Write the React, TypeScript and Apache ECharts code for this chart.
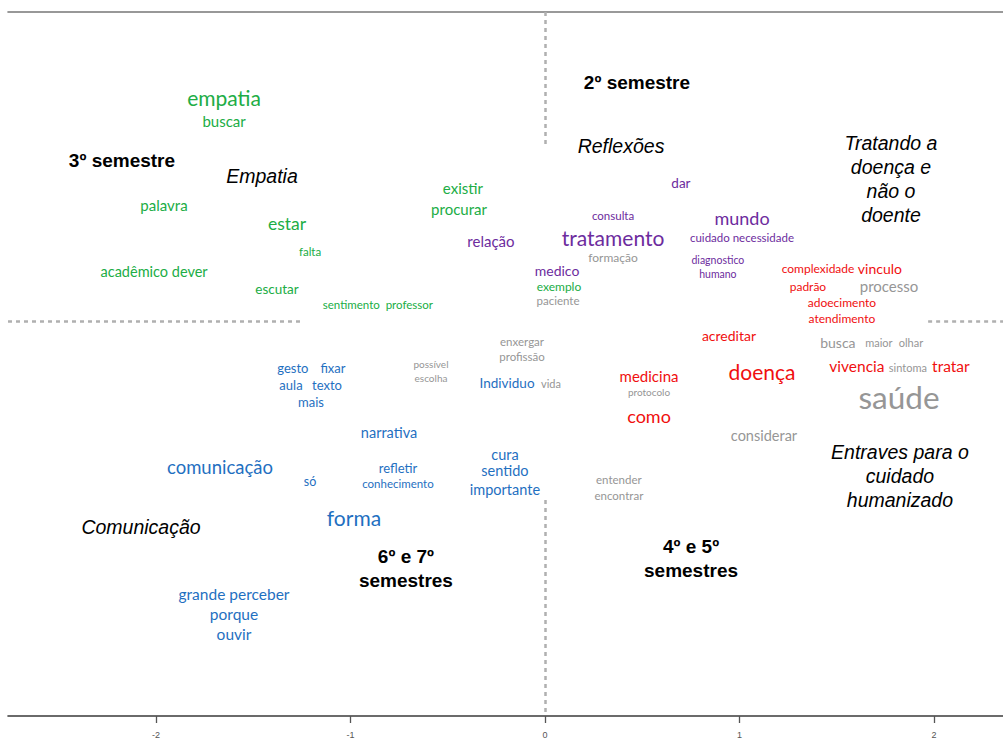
import React, { useEffect, useRef } from "react";
import * as echarts from "echarts";

type W = [string, number, number, number]; // word, dim1, dim2, size

const greenWords: W[] = [
  ["empatia", -1.65, 1.147, 21],
  ["buscar", -1.65, 1.028, 15],
  ["palavra", -1.959, 0.596, 15],
  ["estar", -1.326, 0.504, 17.5],
  ["falta", -1.208, 0.355, 11.5],
  ["acadêmico dever", -2.01, 0.257, 14.5],
  ["escutar", -1.378, 0.165, 13.5],
  ["sentimento  professor", -0.859, 0.087, 11.5],
  ["existir", -0.422, 0.684, 15],
  ["procurar", -0.442, 0.576, 15],
  ["exemplo", 0.072, 0.18, 12],
];

const purpleWords: W[] = [
  ["relação", -0.278, 0.411, 15],
  ["tratamento", 0.35, 0.432, 21],
  ["consulta", 0.35, 0.545, 11.5],
  ["dar", 0.699, 0.71, 13.5],
  ["mundo", 1.013, 0.53, 18],
  ["cuidado necessidade", 1.013, 0.432, 11.5],
  ["diagnostico", 0.889, 0.314, 10.5],
  ["humano", 0.889, 0.242, 10.5],
  ["medico", 0.062, 0.262, 14],
];

const grayWords: W[] = [
  ["formação", 0.35, 0.329, 12],
  ["paciente", 0.067, 0.103, 11.5],
  ["processo", 1.769, 0.18, 15],
  ["busca", 1.506, -0.108, 14],
  ["maior", 1.717, -0.113, 11],
  ["olhar", 1.882, -0.113, 11],
  ["sintoma", 1.866, -0.237, 11],
  ["saúde", 1.82, -0.391, 31.5],
  ["enxergar", -0.118, -0.103, 11.5],
  ["profissão", -0.118, -0.18, 11.5],
  ["possível", -0.586, -0.221, 10],
  ["escolha", -0.586, -0.293, 10],
  ["vida", 0.031, -0.319, 11],
  ["protocolo", 0.535, -0.365, 10],
  ["considerar", 1.126, -0.591, 14.5],
  ["entender", 0.38, -0.817, 11.5],
  ["encontrar", 0.38, -0.895, 11.5],
];

const redWords: W[] = [
  ["complexidade", 1.404, 0.272, 12],
  ["vinculo", 1.722, 0.272, 14],
  ["padrão", 1.352, 0.175, 12],
  ["adoecimento", 1.527, 0.093, 12],
  ["atendimento", 1.527, 0.015, 12],
  ["acreditar", 0.946, -0.072, 14],
  ["doença", 1.116, -0.257, 21],
  ["vivencia", 1.604, -0.231, 15.5],
  ["tratar", 2.087, -0.231, 15.5],
  ["medicina", 0.535, -0.283, 15],
  ["como", 0.535, -0.488, 18],
];

const blueWords: W[] = [
  ["gesto", -1.296, -0.242, 13],
  ["fixar", -1.09, -0.242, 13],
  ["aula", -1.306, -0.329, 13],
  ["texto", -1.121, -0.329, 13],
  ["mais", -1.203, -0.416, 13],
  ["Individuo", -0.195, -0.319, 13.5],
  ["narrativa", -0.802, -0.571, 14.5],
  ["cura", -0.206, -0.684, 14.5],
  ["sentido", -0.206, -0.771, 14.5],
  ["importante", -0.206, -0.864, 14.5],
  ["refletir", -0.756, -0.756, 13],
  ["conhecimento", -0.756, -0.838, 11.5],
  ["só", -1.208, -0.823, 12.5],
  ["comunicação", -1.671, -0.751, 18.5],
  ["forma", -0.982, -1.008, 21],
  ["grande perceber", -1.599, -1.404, 15.5],
  ["porque", -1.599, -1.506, 15.5],
  ["ouvir", -1.599, -1.609, 15.5],
];

const groupLabels: W[] = [
  ["2º semestre", 0.473, 1.224, 19],
  ["3º semestre", -2.175, 0.823, 19],
  ["6º e 7º\nsemestres", -0.715, -1.27, 19],
  ["4º e 5º\nsemestres", 0.751, -1.219, 19],
];

const themeLabels: W[] = [
  ["Empatia", -1.455, 0.746, 19.5],
  ["Reflexões", 0.391, 0.9, 19.5],
  ["Tratando a\ndoença e\nnão o\ndoente", 1.779, 0.73, 19.5],
  ["Entraves para o\ncuidado\nhumanizado", 1.825, -0.797, 19.5],
  ["Comunicação", -2.077, -1.059, 19.5],
];

const xTicks = [-2, -1, 0, 1, 2];
const X_MIN = -2.761;
const X_MAX = 2.355;
const Y_MIN = -2.031;
const Y_MAX = 1.589;

const WORD_FONT = "Lato, 'Noto Sans', sans-serif";
const LABEL_FONT = "'Liberation Sans', Arial, sans-serif";

function wordSeries(
  name: string,
  words: W[],
  color: string,
  fontFamily: string,
  fontWeight: string,
  fontStyle: string,
  lh: number
) {
  return {
    name,
    type: "scatter",
    symbolSize: 1,
    itemStyle: { color: "rgba(0,0,0,0)" },
    silent: true,
    z: 5,
    data: words.map(([w, x, y, s]) => ({
      value: [x, y],
      name: w,
      label: { fontSize: s, lineHeight: Math.round(s * lh) },
    })),
    label: {
      show: true,
      position: "inside",
      align: "center",
      verticalAlign: "middle",
      formatter: (p: any) => p.name,
      color,
      opacity: 1,
      textBorderWidth: 0,
      fontFamily,
      fontWeight,
      fontStyle,
    },
  };
}

export default function App() {
  const ref = useRef<HTMLDivElement>(null);
  useEffect(() => {
    if (!ref.current) return;
    const chart = echarts.init(ref.current, undefined, { renderer: "svg" });
    const dash = { type: [4, 4] as any, color: "#b0b0b0", width: 2.5 };
    chart.setOption({
      animation: false,
      backgroundColor: "#ffffff",
      grid: { left: 8, right: 0, top: 12, bottom: 24 },
      xAxis: [
        {
          type: "value",
          position: "bottom",
          min: X_MIN,
          max: X_MAX,
          axisLine: { show: true, onZero: false, lineStyle: { color: "#3a3a3a", width: 1.6 } },
          axisTick: { show: true, customValues: xTicks, length: 7, lineStyle: { color: "#555", width: 1.3 } },
          axisLabel: {
            show: true,
            customValues: xTicks,
            color: "#555",
            fontSize: 9,
            margin: 14,
            fontFamily: LABEL_FONT,
          },
          splitLine: { show: false },
        },
        {
          type: "value",
          position: "top",
          min: X_MIN,
          max: X_MAX,
          axisLine: { show: true, onZero: false, lineStyle: { color: "#777", width: 1.6 } },
          axisTick: { show: false },
          axisLabel: { show: false },
          splitLine: { show: false },
        },
      ],
      yAxis: {
        type: "value",
        min: Y_MIN,
        max: Y_MAX,
        show: false,
        splitLine: { show: false },
      },
      series: [
        {
          type: "line",
          data: [],
          silent: true,
          markLine: {
            silent: true,
            symbol: "none",
            label: { show: false },
            lineStyle: dash,
            data: [
              [{ coord: [0, Y_MAX] }, { coord: [0, 0.905] }],
              [{ coord: [0, -0.92] }, { coord: [0, Y_MIN] }],
              [{ coord: [X_MIN, 0] }, { coord: [-1.24, 0] }],
              [{ coord: [1.97, 0] }, { coord: [X_MAX, 0] }],
            ],
          },
        },
        wordSeries("green", greenWords, "#20ad45", WORD_FONT, "normal", "normal", 1.3),
        wordSeries("purple", purpleWords, "#6d2c9e", WORD_FONT, "normal", "normal", 1.3),
        wordSeries("gray", grayWords, "#969696", WORD_FONT, "normal", "normal", 1.3),
        wordSeries("red", redWords, "#f00f0f", WORD_FONT, "normal", "normal", 1.3),
        wordSeries("blue", blueWords, "#1f70c1", WORD_FONT, "normal", "normal", 1.3),
        wordSeries("groups", groupLabels, "#000000", LABEL_FONT, "bold", "normal", 1.27),
        wordSeries("themes", themeLabels, "#000000", LABEL_FONT, "normal", "italic", 1.22),
      ],
    });
    return () => chart.dispose();
  }, []);
  return (
    <div
      ref={ref}
      style={{ position: "fixed", left: 0, top: 0, width: 1003, height: 740 }}
    />
  );
}
